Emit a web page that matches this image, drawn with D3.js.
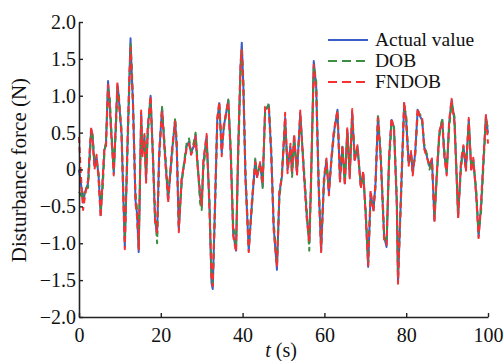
<!DOCTYPE html>
<html>
<head>
<meta charset="utf-8">
<script src="https://cdn.jsdelivr.net/npm/d3@7"></script>
<style>
  body { margin: 0; background: #fff; }
  svg { display: block; }
  text { font-family: "Liberation Serif", "Times New Roman", serif; fill: #111; }
</style>
</head>
<body>
<svg id="chart" width="504" height="361"></svg>
<script>
(function() {
    var width = 504, height = 361

    // time samples (s)
    var tArr = [
        0, 0.5, 1.0, 1.5, 2.2, 2.7, 3.0, 3.3, 3.8, 4.3,
        4.8, 5.3, 5.8, 6.2, 6.6, 7.1, 7.5, 7.9, 8.5, 9.0,
        9.4, 9.7, 10.0, 10.4, 10.8, 11.2, 11.8, 12.3, 12.6, 12.9,
        13.2, 13.8, 14.2, 14.6, 15.2, 15.5, 16.0, 16.4, 16.8, 17.5,
        18.1, 18.6, 19.1, 19.6, 20.3, 21.0, 21.8, 22.7, 23.5, 23.9,
        24.4, 25.1, 25.7, 26.3, 26.9, 27.4, 28.0, 28.5, 28.9, 29.6,
        30.0, 30.4, 31.2, 31.9, 32.4, 32.7, 33.2, 33.8, 34.3, 34.9,
        35.4, 36.5, 37.1, 37.7, 38.4, 38.9, 39.5, 39.8, 40.2, 40.7,
        41.5, 42.3, 43.1, 43.5, 44.3, 44.9, 45.5, 46.4, 47.0, 47.6,
        48.4, 49.0, 49.6, 50.4, 51.0, 51.7, 52.1, 52.6, 53.3, 54.1,
        54.9, 55.7, 56.3, 56.7, 57.4, 58.0, 58.6, 59.2, 59.9, 60.5,
        61.1, 61.7, 62.3, 63.2, 63.8, 64.4, 65.0, 65.6, 66.2, 66.8,
        67.4, 68.1, 68.9, 69.5, 70.1, 70.7, 71.3, 72.0, 72.5, 73.1,
        73.8, 74.6, 75.2, 75.8, 76.4, 77.0, 77.7, 78.0, 78.8, 79.5,
        80.0, 80.6, 81.2, 81.6, 82.2, 82.8, 83.4, 83.9, 84.4, 85.1,
        85.7, 86.3, 86.9, 87.5, 88.1, 88.8, 89.3, 89.9, 90.5, 91.1,
        91.8, 92.3, 92.7, 93.4, 94.0, 94.6, 95.3, 95.9, 96.4, 97.1,
        97.7, 98.3, 98.9, 99.5, 100
    ]

    // actual disturbance (N)
    var actual = [
        0.00, -0.20, -0.45, -0.30, -0.19, 0.30, 0.55, 0.45, 0.04, 0.17,
        -0.10, -0.62, -0.14, 0.26, 0.35, 1.20, 0.90, 0.49, -0.05, 0.60,
        1.15, 1.00, 0.77, 0.49, -0.30, -1.05, 0.22, 1.20, 1.78, 1.30,
        0.90, -0.41, -0.60, -1.12, 0.77, 0.22, 0.45, -0.14, 0.54, 1.00,
        0.13, -0.69, -0.87, 0.20, 0.83, 0.22, -0.41, 0.22, 0.67, 0.31,
        -0.82, -0.14, 0.08, 0.31, 0.38, 0.22, 0.31, 0.47, 0.13, -0.36,
        -0.50, 0.08, 0.45, -0.50, -1.54, -1.62, -0.60, 0.67, 0.90, 0.22,
        0.58, 0.94, 0.22, -0.87, -1.10, 0.22, 1.40, 1.72, 1.10, -0.10,
        -1.10, -0.45, 0.13, -0.10, 0.08, -0.23, 0.81, 0.87, 0.22, -0.78,
        -1.36, -0.32, -0.10, 0.70, 0.00, 0.31, -0.05, 0.45, -0.05, 0.77,
        0.04, -0.64, -1.00, -0.23, 1.47, 1.12, -0.23, -1.10, -0.14, 0.13,
        -0.32, 0.13, 0.49, 0.81, -0.14, 0.31, -0.19, 0.54, -0.10, 0.78,
        0.13, 0.31, -0.23, -0.05, -0.60, -1.32, -0.32, -0.55, -0.19, 0.72,
        0.13, -0.91, -1.05, 0.13, 0.67, 0.58, -0.45, -1.54, -0.23, 0.90,
        0.67, 0.08, 0.22, -0.05, 0.22, 0.81, 0.72, 0.67, 0.31, 0.17,
        0.04, 0.13, -0.69, -0.05, 0.49, 0.67, 0.22, -0.05, 0.63, 0.94,
        0.67, -0.05, -0.64, 0.08, 0.31, 0.00, 0.67, 0.00, 0.13, -0.32,
        -0.91, -0.50, 0.13, 0.72, 0.49
    ]

    // DOB estimate (N)
    var dob = [
        -0.30, -0.35, -0.40, -0.25, -0.25, 0.20, 0.50, 0.50, 0.10, 0.10,
        -0.05, -0.55, -0.25, 0.20, 0.40, 1.10, 1.00, 0.55, 0.00, 0.50,
        1.10, 1.05, 0.80, 0.55, -0.20, -0.95, 0.10, 1.10, 1.70, 1.40,
        0.95, -0.30, -0.55, -1.05, 0.65, 0.30, 0.40, -0.05, 0.45, 0.95,
        0.20, -0.60, -1.00, 0.10, 0.85, 0.30, -0.35, 0.15, 0.70, 0.40,
        -0.75, -0.20, 0.10, 0.35, 0.42, 0.25, 0.35, 0.50, 0.18, -0.45,
        -0.55, 0.00, 0.40, -0.40, -1.45, -1.55, -0.70, 0.60, 0.85, 0.30,
        0.55, 0.95, 0.30, -0.75, -1.05, 0.10, 1.30, 1.65, 1.20, 0.00,
        -1.05, -0.50, 0.15, -0.05, 0.05, -0.25, 0.75, 0.90, 0.30, -0.70,
        -1.30, -0.40, -0.05, 0.60, 0.05, 0.25, -0.10, 0.40, 0.00, 0.70,
        0.10, -0.55, -1.10, -0.30, 1.40, 1.20, -0.15, -1.05, -0.20, 0.10,
        -0.25, 0.10, 0.45, 0.80, -0.05, 0.30, -0.15, 0.50, -0.05, 0.70,
        0.20, 0.28, -0.20, -0.10, -0.55, -1.25, -0.40, -0.50, -0.25, 0.75,
        0.20, -0.85, -1.00, 0.05, 0.60, 0.62, -0.35, -1.45, -0.30, 0.85,
        0.75, 0.12, 0.18, -0.02, 0.18, 0.75, 0.75, 0.65, 0.35, 0.20,
        0.00, 0.10, -0.62, -0.10, 0.45, 0.70, 0.28, -0.02, 0.55, 0.90,
        0.72, 0.00, -0.60, 0.02, 0.28, 0.05, 0.62, 0.05, 0.10, -0.25,
        -0.85, -0.58, 0.05, 0.70, 0.55
    ]

    // FNDOB estimate (N)
    var fndob = [
        0.44, -0.10, -0.55, -0.35, -0.15, 0.35, 0.58, 0.40, 0.00, 0.20,
        -0.15, -0.65, -0.10, 0.30, 0.30, 1.15, 0.85, 0.45, -0.08, 0.65,
        1.18, 0.95, 0.75, 0.45, -0.35, -1.08, 0.28, 1.25, 1.65, 1.25,
        0.85, -0.45, -0.65, -1.08, 0.80, 0.18, 0.48, -0.18, 0.58, 1.00,
        0.10, -0.72, -0.85, 0.25, 0.80, 0.18, -0.45, 0.25, 0.65, 0.28,
        -0.85, -0.10, 0.05, 0.28, 0.35, 0.20, 0.28, 0.45, 0.10, -0.30,
        -0.48, 0.12, 0.48, -0.55, -1.50, -1.58, -0.55, 0.70, 0.92, 0.18,
        0.60, 0.92, 0.18, -0.90, -1.12, 0.28, 1.45, 1.62, 1.05, -0.15,
        -1.12, -0.40, 0.10, -0.12, 0.10, -0.20, 0.85, 0.85, 0.18, -0.82,
        -1.32, -0.28, -0.12, 0.77, -0.05, 0.35, -0.02, 0.48, -0.08, 0.80,
        0.00, -0.68, -0.98, -0.18, 1.42, 1.05, -0.28, -1.12, -0.10, 0.15,
        -0.35, 0.15, 0.52, 0.80, -0.18, 0.33, -0.22, 0.56, -0.12, 0.82,
        0.10, 0.33, -0.26, -0.02, -0.65, -1.30, -0.28, -0.58, -0.15, 0.70,
        0.10, -0.95, -1.02, 0.18, 0.70, 0.55, -0.50, -1.55, -0.18, 0.92,
        0.62, 0.05, 0.25, -0.08, 0.25, 0.83, 0.70, 0.70, 0.28, 0.15,
        0.06, 0.15, -0.72, -0.02, 0.52, 0.64, 0.18, -0.08, 0.66, 0.96,
        0.62, -0.08, -0.66, 0.12, 0.33, -0.03, 0.70, -0.03, 0.16, -0.35,
        -0.93, -0.45, 0.18, 0.74, 0.35
    ]

    var xTicks = [0, 20, 40, 60, 80, 100]
    var yTicks = [-2.0, -1.5, -1.0, -0.5, 0, 0.5, 1.0, 1.5, 2.0]
    var seriesNames = ["Actual value", "DOB", "FNDOB"]

    var series = [
        {name: seriesNames[0], values: actual, color: "#3b5fc8", dash: null},
        {name: seriesNames[1], values: dob, color: "#3e8e41", dash: "6,4"},
        {name: seriesNames[2], values: fndob, color: "#f8302f", dash: "6,4"}
    ]

    var x = d3.scaleLinear().domain([0, 100]).range([79, 488])
    var y = d3.scaleLinear().domain([-2, 2]).range([317, 22])

    var svg = d3.select("#chart")

    var line = d3.line()
        .x((d, i) => x(tArr[i]))
        .y(d => y(d))

    // curves
    svg.append("g")
        .selectAll("path")
        .data(series)
        .join("path")
        .attr("d", d => line(d.values))
        .attr("fill", "none")
        .attr("stroke", d => d.color)
        .attr("stroke-width", 2)
        .attr("stroke-linejoin", "round")
        .attr("stroke-dasharray", d => d.dash)

    // axes (ticks point inward)
    var xAxis = svg.append("g")
        .attr("transform", "translate(0,317)")
        .call(d3.axisBottom(x).tickValues(xTicks).tickSizeInner(-4).tickSizeOuter(0).tickPadding(11))
    var yAxis = svg.append("g")
        .attr("transform", "translate(79,0)")
        .call(d3.axisLeft(y).tickValues(yTicks).tickSizeInner(-4).tickSizeOuter(0).tickPadding(3)
            .tickFormat(d => d === 0 ? "0" : d3.format(".1f")(d)))

    ;[xAxis, yAxis].forEach(g => {
        g.select(".domain").attr("stroke", "#222").attr("stroke-width", 1.6)
        g.selectAll(".tick line").attr("stroke", "#222").attr("stroke-width", 1.4)
        g.selectAll(".tick text")
            .attr("fill", "#111")
            .style("font-family", '"Liberation Serif", "Times New Roman", serif')
            .style("font-size", "20px")
    })

    // axis titles
    var xt = svg.append("text")
        .attr("x", 281).attr("y", 357)
        .attr("text-anchor", "middle")
        .style("font-size", "20px")
    xt.append("tspan").style("font-style", "italic").text("t")
    xt.append("tspan").text(" (s)")

    svg.append("text")
        .attr("transform", "translate(26,170) rotate(-90)")
        .attr("text-anchor", "middle")
        .style("font-size", "21px")
        .text("Disturbance force (N)")

    // legend
    var legend = svg.append("g")
        .selectAll("g")
        .data(series)
        .join("g")
        .attr("transform", (d, i) => "translate(0," + [40, 61, 82][i] + ")")
    legend.append("line")
        .attr("x1", 328).attr("x2", 368)
        .attr("stroke", d => d.color)
        .attr("stroke-width", 1.8)
        .attr("stroke-dasharray", d => d.dash ? "9,5" : null)
    legend.append("text")
        .attr("x", 375).attr("y", 6)
        .style("font-size", "19.5px")
        .text(d => d.name)
})();
</script>
</body>
</html>
